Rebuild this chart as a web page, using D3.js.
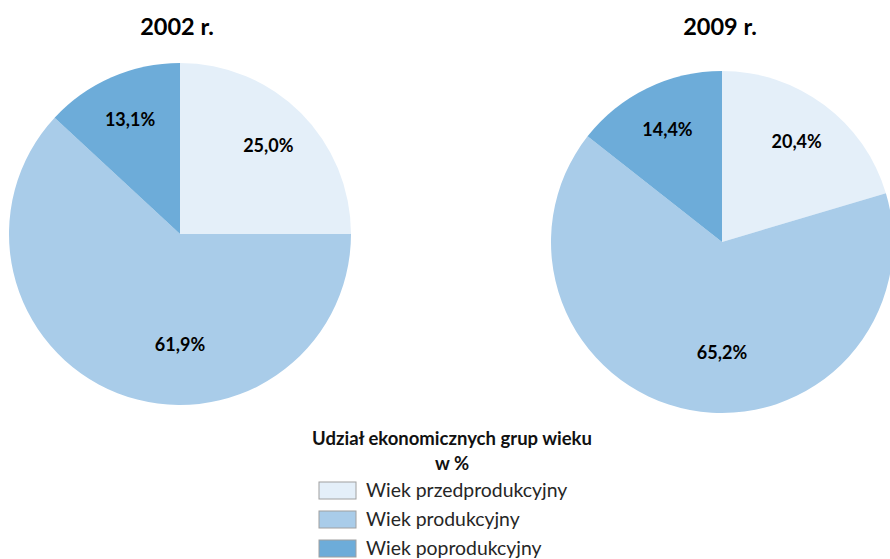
<!DOCTYPE html>
<html><head><meta charset="utf-8">
<script src="https://cdn.jsdelivr.net/npm/d3@7"></script>
<style>body{margin:0;background:#fff}svg{display:block}text{font-family:Lato,"Open Sans",sans-serif}</style>
</head><body>
<svg id="c" width="890" height="559"></svg>
<script>
const categories = ["Wiek przedprodukcyjny", "Wiek produkcyjny", "Wiek poprodukcyjny"];
const years = ["2002 r.", "2009 r."];
const values2002 = [25.0, 61.9, 13.1];
const values2009 = [20.4, 65.2, 14.4];
const colors = ["#e4eff9", "#a9cce9", "#6dacd9"];
const legendTitle = ["Udział ekonomicznych grup wieku", "w %"];

const svg = d3.select("#c");
const fmt = v => v.toFixed(1).replace(".", ",") + "%";
const pies = [
  {title: years[0], values: values2002, cx: 180, cy: 234, tx: 177},
  {title: years[1], values: values2009, cx: 722, cy: 242, tx: 720}
];
const R = 171;
const pie = d3.pie().sort(null).value(d => d);
const arc = d3.arc().innerRadius(0).outerRadius(R);

pies.forEach(p => {
  svg.append("text").attr("x", p.tx).attr("y", 35).attr("text-anchor", "middle")
    .attr("font-weight", "bold").attr("font-size", 23.5).text(p.title);
  const g = svg.append("g").attr("transform", `translate(${p.cx},${p.cy})`);
  const arcs = pie(p.values);
  g.selectAll("path").data(arcs).join("path").attr("d", arc).attr("fill", (d, i) => colors[i]);
  g.selectAll("text.lbl").data(arcs).join("text").attr("class", "lbl")
    .attr("transform", d => {
      let a = (d.startAngle + d.endAngle) / 2;
      let r = R * 0.73;
      if (d.endAngle - d.startAngle > Math.PI) { a = Math.PI; r = R * 0.65; }
      return `translate(${r * Math.sin(a)},${-r * Math.cos(a)})`;
    })
    .attr("text-anchor", "middle").attr("dy", "0.35em")
    .attr("font-weight", "bold").attr("font-size", 18).attr("fill", "#000")
    .text(d => fmt(d.data));
});

const lg = svg.append("g");
lg.selectAll("text.t").data(legendTitle).join("text").attr("class", "t")
  .attr("x", 452).attr("y", (d, i) => 445 + i * 25).attr("text-anchor", "middle")
  .attr("font-weight", "bold").attr("font-size", 18.5).attr("fill", "#111").text(d => d);
const rows = lg.selectAll("g.row").data(categories).join("g").attr("class", "row")
  .attr("transform", (d, i) => `translate(319,${482 + i * 29})`);
rows.append("rect").attr("width", 37).attr("height", 17).attr("fill", (d, i) => colors[i])
  .attr("stroke", "#a0a0a0").attr("stroke-width", 1);
rows.append("text").attr("x", 47).attr("y", 15).attr("font-size", 19.4).attr("fill", "#262626").text(d => d);
</script>
</body></html>
